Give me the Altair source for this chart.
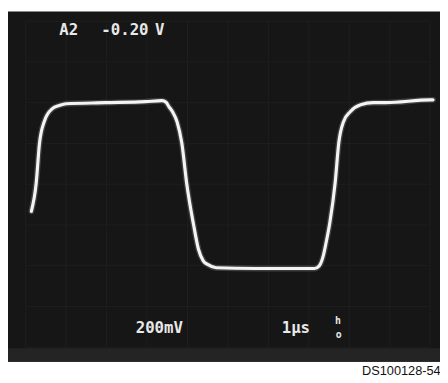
import altair as alt
import pandas as pd

# Waveform: time in µs (1 µs/div), voltage in mV (200 mV/div)
time_us = [0.14, 0.26, 0.34, 0.46, 0.66, 0.83, 1.00, 1.97, 2.96, 3.37, 3.47, 3.54, 3.64,
           3.74, 3.86, 3.98, 4.15, 4.27, 4.39, 4.51, 4.71, 5.68, 7.14, 7.26, 7.35, 7.43,
           7.52, 7.65, 7.74, 7.86, 8.03, 8.28, 8.59, 8.91, 10.0, 10.07]
volt_mv = [-133, 5, 198, 308, 371, 386, 395, 400, 405, 410, 402, 381, 352,
           308, 202, 5, -198, -318, -376, -395, -410, -414, -414, -400, -357, -284,
           -188, 5, 202, 308, 357, 390, 400, 400, 414, 414]

grid_t = list(range(0, 11))
grid_v = list(range(-800, 801, 200))

labels_text = ["A2", "-0.20", "V", "200mV", "1µs"]
labels_t = [0.83, 1.87, 3.2, 2.72, 6.33]
labels_v = [757, 757, 757, -704, -704]

XD = [-0.437, 10.243]
YD = [-959, 848]
xs = alt.Scale(domain=XD, nice=False, zero=False)
ys = alt.Scale(domain=YD, nice=False, zero=False)

wave = pd.DataFrame({"t": time_us, "v": volt_mv})


def rect(x, x2, y, y2, color):
    return alt.Chart(pd.DataFrame({"x": [x], "x2": [x2], "y": [y], "y2": [y2]})).mark_rect(
        color=color).encode(
        x=alt.X("x:Q", scale=xs, axis=None), x2="x2:Q",
        y=alt.Y("y:Q", scale=ys, axis=None), y2="y2:Q")


screen = rect(XD[0], XD[1], -872, YD[1], "#161616")
band = rect(XD[0], XD[1], -872, -805, "#242424")

vgrid = alt.Chart(pd.DataFrame({"t": grid_t, "a": -800, "b": 800})).mark_rule(
    color="#1f1f1f", strokeWidth=1).encode(
    x=alt.X("t:Q", scale=xs, axis=None),
    y=alt.Y("a:Q", scale=ys, axis=None), y2="b:Q")

hgrid = alt.Chart(pd.DataFrame({"v": grid_v, "a": 0, "b": 10})).mark_rule(
    color="#1f1f1f", strokeWidth=1).encode(
    y=alt.Y("v:Q", scale=ys, axis=None),
    x=alt.X("a:Q", scale=xs, axis=None), x2="b:Q")

glow = alt.Chart(wave).mark_line(color="#9a9a9a", strokeWidth=6, opacity=0.3,
                                 interpolate="monotone", strokeCap="round").encode(
    x=alt.X("t:Q", scale=xs, axis=None), y=alt.Y("v:Q", scale=ys, axis=None))

trace = alt.Chart(wave).mark_line(color="#f4f4f4", strokeWidth=3.2,
                                  interpolate="monotone", strokeCap="round").encode(
    x=alt.X("t:Q", scale=xs, axis=None), y=alt.Y("v:Q", scale=ys, axis=None))

labels = alt.Chart(pd.DataFrame({"t": labels_t, "v": labels_v, "s": labels_text})).mark_text(
    font="DejaVu Sans Mono", fontWeight="bold", fontSize=16, color="#e8e8e8",
    align="left", baseline="middle").encode(
    x=alt.X("t:Q", scale=xs, axis=None), y=alt.Y("v:Q", scale=ys, axis=None), text="s:N")

sym = alt.Chart(pd.DataFrame({"t": [7.72, 7.74], "v": [-670, -740], "s": ["h", "o"]})).mark_text(
    font="DejaVu Sans Mono", fontWeight="bold", fontSize=10, color="#e8e8e8",
    align="center", baseline="middle").encode(
    x=alt.X("t:Q", scale=xs, axis=None), y=alt.Y("v:Q", scale=ys, axis=None), text="s:N")

tag = alt.Chart(pd.DataFrame({"t": [10.26], "v": [-916], "s": ["DS100128-54"]})).mark_text(
    font="Liberation Sans", fontSize=13, color="#111111",
    align="right", baseline="middle").encode(
    x=alt.X("t:Q", scale=xs, axis=None), y=alt.Y("v:Q", scale=ys, axis=None), text="s:N")

chart = alt.layer(screen, band, vgrid, hgrid, glow, trace, labels, sym, tag).properties(
    width=440, height=375,
    autosize=alt.AutoSizeParams(type="none"), padding=0, background="white"
).configure_view(stroke=None)

chart.save("out.html", embed_options={"renderer": "svg", "actions": False})
